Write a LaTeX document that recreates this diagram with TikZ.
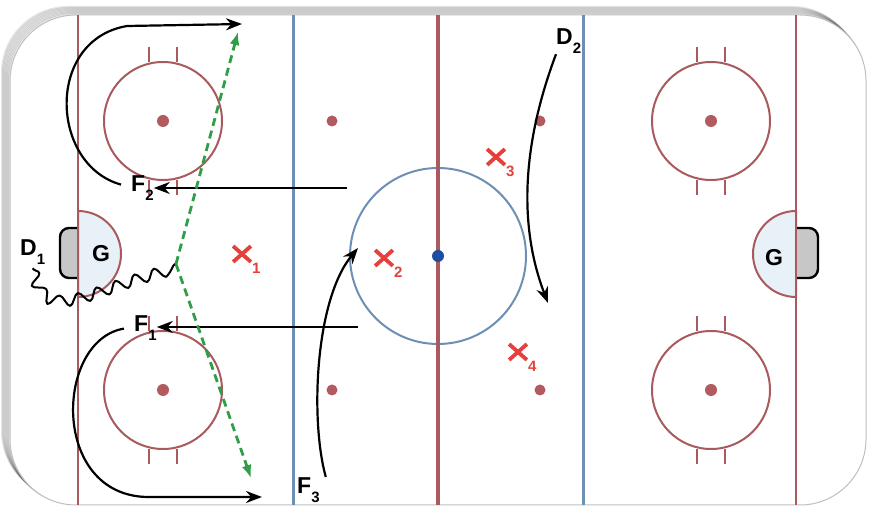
\documentclass[tikz,border=0pt]{standalone}
\usepackage{fontspec}
\setmainfont{Liberation Sans}
\usetikzlibrary{arrows.meta,shapes.misc,decorations.pathmorphing,positioning}
\definecolor{rinkred}{HTML}{A85A5E}
\definecolor{rinkblue}{HTML}{6E8FB5}
\definecolor{spotred}{HTML}{B25A5E}
\definecolor{puckblue}{HTML}{1F4EA0}
\definecolor{xred}{HTML}{E5403C}
\definecolor{passgreen}{HTML}{2E9E48}
\definecolor{creasefill}{HTML}{E8F1F7}
\newcommand{\subnum}[1]{\raisebox{-9bp}{\fontsize{15bp}{15bp}\selectfont #1}}
\tikzset{
  player/.style={inner sep=0pt,anchor=base west,font=\bfseries\fontsize{23bp}{23bp}\selectfont},
  goalie/.style={inner sep=0pt,font=\bfseries\fontsize{23bp}{23bp}\selectfont},
  xmark/.style={cross out,draw=xred,line width=3.8bp,minimum width=14bp,minimum height=12bp,inner sep=0pt},
  xsub/.style={inner sep=0pt,text=xred,font=\bfseries\fontsize{15bp}{15bp}\selectfont},
  move/.style={black,line width=2.2bp},
  pass/.style={passgreen,line width=2.8bp,dash pattern=on 8bp off 5bp},
  faceoff/.style={rinkred,line width=2bp},
  crease/.style={fill=creasefill,draw=rinkred,line width=2bp},
  net/.style={fill=black!22,draw=black,line width=2.4bp,rounded corners=9bp},
}
\begin{document}
\begin{tikzpicture}[>={Stealth[length=16bp,width=12bp]},line join=round,]
\useasboundingbox (0bp,0bp) rectangle (875bp,525bp);
%% rink
\foreach \s in {1,...,8}
  \draw[black,opacity=0.1,line width=2bp,rounded corners=66bp,xshift=-\s bp,yshift=\s bp] (10bp,20bp) rectangle (866bp,510bp);
\draw[fill=white,draw=black!25,line width=1bp,rounded corners=66bp] (10bp,20bp) rectangle (866bp,510bp);
%% creases and nets
\draw[crease] (78bp,228bp) arc (-90:90:43bp) -- cycle;
\draw[crease] (796bp,228bp) arc (270:90:43bp) -- cycle;
\draw[net] (78bp,297bp) -- (60bp,297bp) -- (60bp,247bp) -- (78bp,247bp);
\draw[net] (796bp,297bp) -- (818bp,297bp) -- (818bp,247bp) -- (796bp,247bp);
%% lines
\draw[rinkred,line width=2.5bp] (78bp,20bp) -- (78bp,510bp);
\draw[rinkred,line width=2.5bp] (796bp,20bp) -- (796bp,510bp);
\draw[rinkblue,line width=3bp] (293bp,20bp) -- (293bp,510bp);
\draw[rinkblue,line width=3bp] (583bp,20bp) -- (583bp,510bp);
\draw[rinkblue,line width=2bp] (438bp,269bp) circle (88bp);
\draw[rinkred,line width=3.5bp] (438bp,20bp) -- (438bp,510bp);
\fill[puckblue] (438bp,269bp) circle (6bp);
%% faceoff circles
\foreach \cx/\cy in {163/404,163/135,711/404,711/135} {
  \draw[faceoff] (\cx bp,\cy bp) circle (59bp);
  \fill[spotred] (\cx bp,\cy bp) circle (6bp);
  \draw[faceoff] ([xshift=-14bp,yshift=59bp]\cx bp,\cy bp) -- +(0bp,15bp);
  \draw[faceoff] ([xshift=14bp,yshift=59bp]\cx bp,\cy bp) -- +(0bp,15bp);
  \draw[faceoff] ([xshift=-14bp,yshift=-59bp]\cx bp,\cy bp) -- +(0bp,-15bp);
  \draw[faceoff] ([xshift=14bp,yshift=-59bp]\cx bp,\cy bp) -- +(0bp,-15bp);
}
\foreach \cx/\cy in {332/404,540/404,332/135,540/135}
  \fill[spotred] (\cx bp,\cy bp) circle (5.5bp);
%% goalies
\node (g_l) at (101bp,271bp) [goalie] {G};
\node (g_r) at (774bp,267bp) [goalie] {G};
%% opponents
\node (x_1) at (242bp,271bp) [xmark] {};
\node (x_2) at (384bp,267bp) [xmark] {};
\node (x_3) at (496bp,368bp) [xmark] {};
\node (x_4) at (518bp,173bp) [xmark] {};
\node (xs_1) [xsub,anchor=north west,below right=1bp and 1bp of x_1] {1};
\node (xs_2) [xsub,anchor=north west,below right=1bp and 1bp of x_2] {2};
\node (xs_3) [xsub,anchor=north west,below right=1bp and 1bp of x_3] {3};
\node (xs_4) [xsub,anchor=north west,below right=1bp and 1bp of x_4] {4};
%% players
\node (f_2) at (131bp,333bp) [player] {F\subnum{2}};
\node (f_1) at (134bp,193bp) [player] {F\subnum{1}};
\node (d_1) at (20bp,269bp) [player] {D\subnum{1}};
\node (d_2) at (556bp,480bp) [player] {D\subnum{2}};
\node (f_3) at (297bp,32bp) [player] {F\subnum{3}};
\coordinate (a_2) at (347bp,337bp);
\coordinate (a_1) at (358bp,198bp);
\coordinate (t_2) at (242bp,501bp);
\coordinate (t_1) at (262bp,28bp);
\coordinate (p_0) at (176bp,261bp);
\coordinate (p_1) at (238bp,493bp);
\coordinate (p_2) at (251bp,47bp);
\coordinate (e_2) at (548bp,222bp);
\coordinate (e_3) at (358bp,277bp);
%% moves
\draw[move,->] (a_2) -- (a_2 -| f_2.east);
\draw[move,->] (a_1) -- (a_1 -| f_1.east);
\draw[move,->] ([xshift=-10bp,yshift=4bp]f_2.west) ..controls (50bp,360bp) and (45bp,485bp) .. (127bp,499bp) -- (t_2);
\draw[move,->] ([xshift=-10bp]f_1.west) ..controls (55bp,185bp) and (50bp,30bp) .. (147bp,28bp) -- (t_1);
\draw[move,->] (d_2.south west) ..controls (520bp,375bp) and (520bp,295bp) .. (e_2);
\draw[move,->] ([xshift=6bp]f_3.north east) ..controls (310bp,105bp) and (315bp,225bp) .. (e_3);
\draw[move,line width=2bp,decorate,decoration={snake,amplitude=5.5bp,segment length=20bp}] ([yshift=-3bp]d_1.south) ..controls (45bp,200bp) and (95bp,245bp) .. (p_0);
%% passes
\draw[pass,-{Latex[length=13bp,width=10bp]}] (p_0) -- (p_1);
\draw[pass,-{Latex[length=13bp,width=10bp]}] (p_0) -- (p_2);
%
\end{tikzpicture}
\end{document}
